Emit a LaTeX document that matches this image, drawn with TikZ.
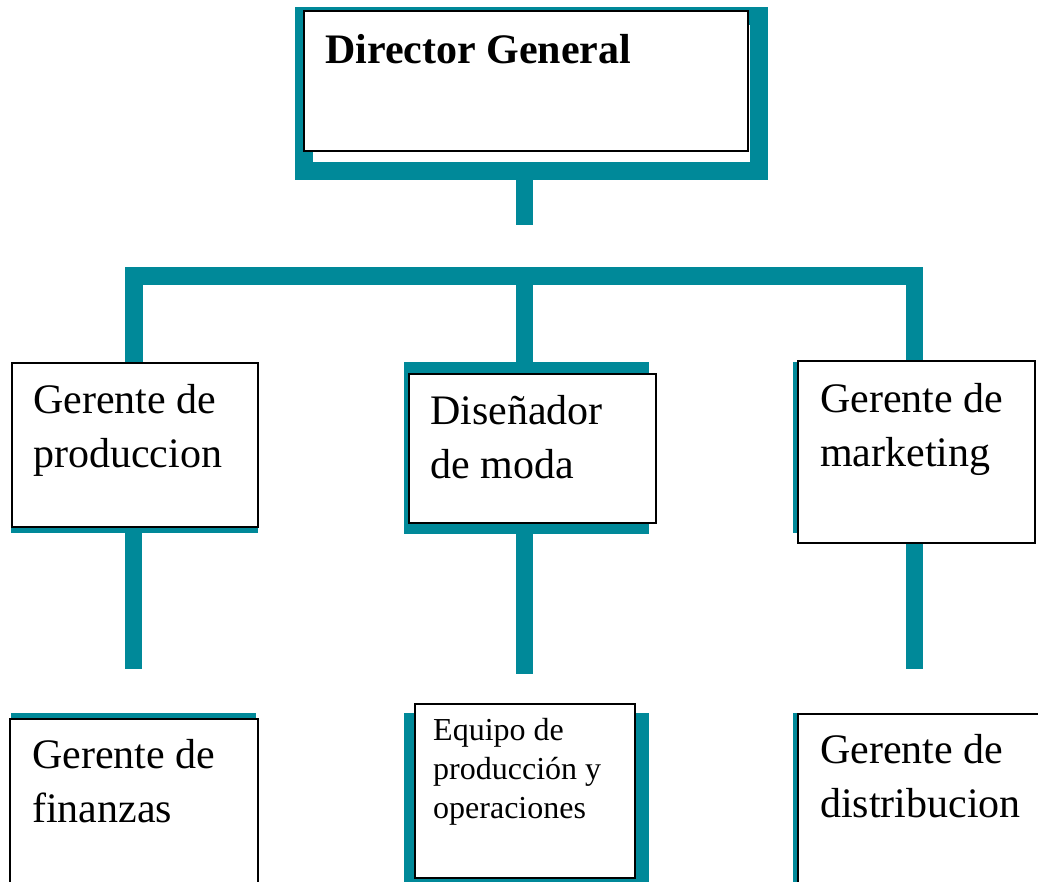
\documentclass[tikz,border=0pt]{standalone}
\usepackage{fontspec}
\setmainfont{Liberation Serif}
\definecolor{orgteal}{RGB}{0,137,153}
\tikzset{
    card/.style 2 args={draw=black, fill=white, line width=1.2pt, anchor=north west, inner sep=0pt, outer sep=0pt, minimum width=#1, minimum height=#2},
    backing/.style 2 args={fill=orgteal, anchor=north west, inner sep=0pt, outer sep=0pt, minimum width=#1, minimum height=#2},
    bar/.style={orgteal, line width=17.5pt},
    txt/.style={anchor=north west, align=left, inner sep=0pt, font=\fontsize{42}{54}\selectfont},
    smalltxt/.style={txt, font=\fontsize{32}{39}\selectfont}
}
\begin{document}
\begin{tikzpicture}[x=1pt, y=-1pt]
        \useasboundingbox (0,0) rectangle (1038,882);
        \clip (0,0) rectangle (1038,882);
        \node[draw=orgteal, line width=18pt, anchor=north west, inner sep=0pt, outer sep=0pt, minimum width=455pt, minimum height=155pt] (dgframe) at (304,16) {};
        \node[backing={247pt}{171pt}] (gprodback) at (11,362) {};
        \node[backing={245pt}{172pt}] (disback) at (404,362) {};
        \node[backing={230pt}{171pt}] (gmktback) at (793,362) {};
        \node[backing={245pt}{200pt}] (gfinback) at (11,713) {};
        \node[backing={245pt}{200pt}] (equipoback) at (404,713) {};
        \node[backing={240pt}{200pt}] (gdistback) at (793,713) {};
        \coordinate (dgstem) at (524.5,225);
        \coordinate (lcol) at (134,276);
        \coordinate (mcol) at (524.5,276);
        \coordinate (rcol) at (914.5,276);
        \coordinate (lfoot) at (133.5,669);
        \coordinate (mfoot) at (524.5,674);
        \coordinate (rfoot) at (914.5,669);
        \draw[bar] (dgframe.south -| dgstem) -- (dgstem);
        \draw[bar] (gprodback.north -| lcol) -- (lcol) -- (rcol) -- (gmktback.north -| rcol);
        \draw[bar] (mcol) -- (disback.north -| mcol);
        \draw[bar] (gprodback.south -| lfoot) -- (lfoot);
        \draw[bar] (disback.south -| mfoot) -- (mfoot);
        \draw[bar] (gmktback.south -| rfoot) -- (rfoot);
        \node[card={444pt}{140pt}] (dg) at (304,11) {};
        \node[card={246pt}{164pt}] (gprod) at (12,363) {};
        \node[card={247pt}{149pt}] (dis) at (409,374) {};
        \node[card={237pt}{182pt}] (gmkt) at (798,361) {};
        \node[card={248pt}{200pt}] (gfin) at (10,719) {};
        \node[card={220pt}{174pt}] (equipo) at (415,704) {};
        \node[card={260pt}{200pt}] (gdist) at (798,714) {};
        \node[txt, font=\fontsize{42}{54}\selectfont\bfseries] (dgtxt) at (325,34) {Director General};
        \node[txt] (gprodtxt) at (33,384) {Gerente de\\produccion};
        \node[txt] (distxt) at (430,395) {Diseñador\\de moda};
        \node[txt] (gmkttxt) at (820,383) {Gerente de\\marketing};
        \node[txt] (gfintxt) at (32,739) {Gerente de\\finanzas};
        \node[smalltxt] (equipotxt) at (433,718) {Equipo de\\producción y\\operaciones};
        \node[txt] (gdisttxt) at (820,734) {Gerente de\\distribucion};
    \end{tikzpicture}
\end{document}
